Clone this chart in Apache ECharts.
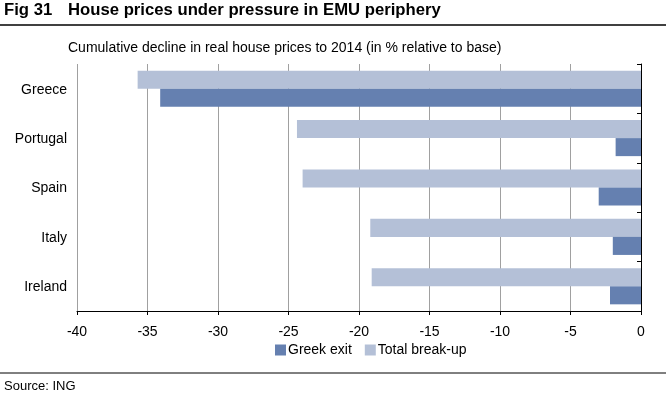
<!DOCTYPE html>
<html>
<head>
<meta charset="UTF-8">
<title>House prices under pressure in EMU periphery</title>
<script src="https://cdn.jsdelivr.net/npm/echarts@6/dist/echarts.min.js" type="text/javascript"></script>
<style type="text/css">
    html,body{
        margin:0;
        height:100%;
        background:#fff;
    }
</style>
</head>
<body>
<div id="container" style="width:666px;height:400px"></div>
<script type="text/javascript">
	// 数据
	var countries = ['Greece', 'Portugal', 'Spain', 'Italy', 'Ireland'];
	var greekExit = [-34.1, -1.8, -3.0, -2.0, -2.2];
	var totalBreakUp = [-35.7, -24.4, -24.0, -19.2, -19.1];
	var xTicks = [-40, 0, 5];   // min, max, interval

	var font = 'Liberation Sans, Arial, sans-serif';
	var chart = echarts.init(document.getElementById('container'));
	var option = {
		animation: false,
		textStyle: { fontFamily: font },
		title: [{
			text: 'Fig 31',
			left: 4, top: 2, padding: 0,
			textStyle: { fontSize: 16.7, fontWeight: 'bold', color: '#000', fontFamily: font }
		}, {
			text: 'House prices under pressure in EMU periphery',
			left: 68, top: 2, padding: 0,
			textStyle: { fontSize: 16.7, fontWeight: 'bold', color: '#000', fontFamily: font }
		}, {
			text: 'Cumulative decline in real house prices to 2014 (in % relative to base)',
			left: 68, top: 41, padding: 0,
			textStyle: { fontSize: 14, fontWeight: 'normal', color: '#000', fontFamily: font }
		}, {
			text: 'Source: ING',
			left: 4, top: 380, padding: 0,
			textStyle: { fontSize: 13, fontWeight: 'normal', color: '#000', fontFamily: font }
		}],
		graphic: [
			{ type: 'line', shape: { x1: 0, y1: 25, x2: 666, y2: 25 }, style: { stroke: '#000', lineWidth: 1.5 } },
			{ type: 'line', shape: { x1: 0, y1: 373, x2: 666, y2: 373 }, style: { stroke: '#000', lineWidth: 1 } }
		],
		legend: {
			data: ['Greek exit', 'Total break-up'],
			left: 275, top: 343, padding: 0,
			itemWidth: 11, itemHeight: 11, itemGap: 13,
			icon: 'rect',
			textStyle: { fontSize: 14, color: '#000', padding: [0, 0, 0, -3], fontFamily: font }
		},
		grid: { left: 77, right: 25, top: 64, bottom: 89, containLabel: false },
		xAxis: {
			type: 'value',
			min: xTicks[0], max: xTicks[1], interval: xTicks[2],
			axisLine: { show: true, lineStyle: { color: '#000', width: 1 } },
			axisTick: { show: true, length: 4, lineStyle: { color: '#000' } },
			axisLabel: { fontSize: 14, color: '#000', margin: 14, fontFamily: font },
			splitLine: { show: true, lineStyle: { color: '#a0a0a0', width: 1 } }
		},
		yAxis: {
			type: 'category',
			data: countries,
			inverse: true,
			axisLine: { show: true, onZero: true, lineStyle: { color: '#000', width: 1 } },
			axisTick: { show: true, length: 4, lineStyle: { color: '#000' } },
			axisLabel: { show: false },
			splitLine: { show: false }
		},
		series: [{
			name: 'Total break-up',
			type: 'bar',
			data: totalBreakUp,
			barGap: '0%',
			barCategoryGap: '27%',
			itemStyle: { color: '#b4c0d7' }
		}, {
			name: 'Greek exit',
			type: 'bar',
			data: greekExit,
			itemStyle: { color: '#6580b0' }
		}]
	};
	// 类别标签放在绘图区左侧
	chart.setOption(option);
	var labels = countries.map(function (c, i) {
		var pt = chart.convertToPixel({ yAxisIndex: 0 }, c);
		return {
			type: 'text', x: 67, y: pt + 1,
			style: { text: c, fill: '#000', font: '14px ' + font, textAlign: 'right', textVerticalAlign: 'middle' }
		};
	});
	chart.setOption({ graphic: option.graphic.concat(labels) });
</script>
</body>
</html>
